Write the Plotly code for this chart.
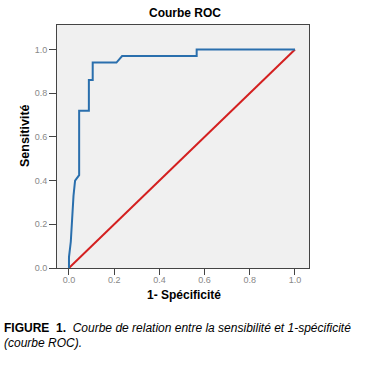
import plotly.graph_objects as go

# ROC curve data (1 - specificity, sensitivity)
fpr = [0.0, 0.0, 0.008, 0.012, 0.016, 0.02, 0.025, 0.027, 0.045, 0.045, 0.088, 0.088,
       0.105, 0.105, 0.21, 0.235, 0.565, 0.565, 1.0]
tpr = [0.0, 0.05, 0.12, 0.2, 0.28, 0.33, 0.38, 0.4, 0.425, 0.72, 0.72, 0.86,
       0.86, 0.94, 0.94, 0.97, 0.97, 1.0, 1.0]
ref_x = [0.0, 1.0]
ref_y = [0.0, 1.0]
tick_vals = [0.0, 0.2, 0.4, 0.6, 0.8, 1.0]
tick_text = ["0.0", "0.2", "0.4", "0.6", "0.8", "1.0"]

fig = go.Figure()
fig.add_trace(go.Scatter(x=ref_x, y=ref_y, mode="lines",
                         line=dict(color="#d42020", width=2), showlegend=False))
fig.add_trace(go.Scatter(x=fpr, y=tpr, mode="lines",
                         line=dict(color="#2a6fad", width=2), showlegend=False))

axis_common = dict(showline=True, linecolor="#444444", linewidth=1, mirror=True,
                   ticks="outside", tickcolor="#444444",
                   tickfont=dict(family="Liberation Sans, Arial", size=9, color="#888888"),
                   showgrid=False, zeroline=False,
                   tickvals=tick_vals, ticktext=tick_text)

fig.update_layout(
    width=373, height=372,
    margin=dict(l=57, r=64, t=25, b=104),
    paper_bgcolor="white", plot_bgcolor="#f0f0f0",
    xaxis=dict(range=[-0.053, 1.062], ticklen=6, ticklabelstandoff=-3, **axis_common),
    yaxis=dict(range=[0, 1.112], ticklen=7, **axis_common),
    font=dict(family="Liberation Sans, Arial", color="black"),
)

def px(x):
    return (x - 57) / 252

def py(y):
    return (268 - y) / 243

ann = [
    dict(text="<b>Courbe ROC</b>", x=px(185), y=py(12.7), xanchor="center", yanchor="middle",
         font=dict(size=12)),
    dict(text="<b>Sensitivité</b>", x=px(25), y=py(136), xanchor="center", yanchor="middle",
         textangle=-90, font=dict(size=12.5)),
    dict(text="<b>1- Spécificité</b>", x=px(184), y=py(295), xanchor="center", yanchor="middle",
         font=dict(size=12)),
    dict(text="<b>FIGURE&nbsp;&nbsp;1.</b>&nbsp;&nbsp;<i>Courbe de relation entre la sensibilité et 1-spécificité</i>",
         x=px(2), y=py(328), xanchor="left", yanchor="middle", font=dict(size=12)),
    dict(text="<i>(courbe ROC).</i>", x=px(2), y=py(343), xanchor="left", yanchor="middle",
         font=dict(size=12)),
]
for a in ann:
    a.update(xref="paper", yref="paper", showarrow=False)
fig.update_layout(annotations=ann)

fig.write_html("out.html", config={"displayModeBar": False},
               post_script="document.body.style.margin='0';")
